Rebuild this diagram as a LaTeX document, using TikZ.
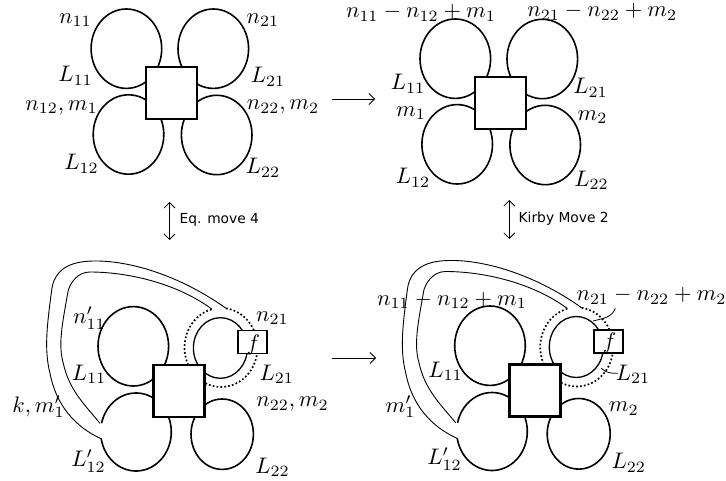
\documentclass[tikz,border=0pt]{standalone}
\usepackage{fontspec}
\newfontfamily\dejasans{DejaVu Sans}
\usetikzlibrary{arrows.meta}
\tikzset{
  x=1pt,y=-1pt,
  lp/.style={line width=1.6pt},
  thinlp/.style={line width=1.3pt},
  band/.style={line width=0.9pt},
  dotline/.style={line width=1.7pt,dash pattern=on 1.7pt off 2.2pt},
  bigbox/.style={draw,fill=white,line width=2.4pt,minimum width=51pt,minimum height=52pt,inner sep=0pt},
  fbox/.style={draw,fill=white,line width=1.9pt,minimum width=29pt,minimum height=23pt,inner sep=0pt},
  lbl/.style={scale=2.25,inner sep=0pt},
  movelbl/.style={font=\dejasans\fontsize{13.8}{16}\selectfont,inner sep=0pt},
  harrow/.style={line width=0.8pt,-{Straight Barb[length=5.5pt,width=11pt]}},
  varrow/.style={line width=0.8pt,{Straight Barb[length=5.5pt,width=11pt]}-{Straight Barb[length=5.5pt,width=11pt]}},
  leader/.style={line width=0.8pt}
}
\newcommand{\ringarc}[4]{% cx, cy, from, to
  \draw[dotline] plot[domain=#3:#4,samples=40,smooth] ({#1+36.5*cos(\x)},{#2-39.5*sin(\x)});}
\newcommand{\outerband}{(226,308.3) .. controls (175,272) and (120,258) .. (85,261.5) .. controls (60,264) and (53,278) .. (51.7,290) .. controls (47,325) and (44,350) .. (50,373.3) .. controls (56,405) and (75,427) .. (101.7,439)}
\newcommand{\innerband}{(211.7,309) .. controls (175,282) and (125,272) .. (90,272) .. controls (78,272) and (71,282) .. (68.3,290) .. controls (62,325) and (58,345) .. (63.3,363.3) .. controls (69,390) and (85,405) .. (100,423.3)}
\begin{document}
\begin{tikzpicture}
\useasboundingbox (0,0) rectangle (726,481);
% --- top left
\draw[lp] (126.4,48.7) ellipse [x radius=35.3pt,y radius=39.7pt];
\draw[lp] (213.3,48.7) ellipse [x radius=35.3pt,y radius=39.7pt];
\draw[lp] (128.5,134.5) ellipse [x radius=35.3pt,y radius=39.7pt];
\draw[lp] (216.7,135) ellipse [x radius=35.3pt,y radius=39.7pt];
\node[bigbox] (sqA) at (171.7,93) {};
% --- top right
\draw[lp] (455.3,58.7) ellipse [x radius=35.3pt,y radius=39.7pt];
\draw[lp] (542.3,59) ellipse [x radius=35.3pt,y radius=39.7pt];
\draw[lp] (457.2,144.3) ellipse [x radius=35.3pt,y radius=39.7pt];
\draw[lp] (545.2,145) ellipse [x radius=35.3pt,y radius=39.7pt];
\node[bigbox] (sqB) at (500.2,103) {};
% --- bottom left
\draw[band] \outerband;
\draw[band] \innerband;
\draw[lp] (133.3,346.3) ellipse [x radius=35.3pt,y radius=39.7pt];
\draw[thinlp] (220.4,348) ellipse [x radius=27pt,y radius=30.3pt];
\draw[lp] plot[domain=190:527,samples=70,smooth] ({136+35.3*cos(\x)},{432-39*sin(\x)});
\draw[lp] (222.2,434.2) ellipse [x radius=31.2pt,y radius=35.2pt];
\ringarc{221}{347.5}{105}{350}
\ringarc{221}{347.5}{82}{15}
\node[bigbox] (sqC) at (179,391) {};
\node[fbox] (fA) at (252.3,342) {};
% --- bottom right
\draw[band,shift={(355.7,-0.5)}] \outerband;
\draw[band,shift={(355.7,-0.5)}] \innerband;
\draw[lp] (490,345.7) ellipse [x radius=35.3pt,y radius=39.7pt];
\draw[thinlp] (576.3,347) ellipse [x radius=27pt,y radius=30.5pt];
\draw[lp] plot[domain=190:527,samples=70,smooth] ({492+35.3*cos(\x)},{431.5-39*sin(\x)});
\draw[lp] (578.7,433.8) ellipse [x radius=31.5pt,y radius=35.3pt];
\ringarc{576.7}{347}{105}{350}
\ringarc{576.7}{347}{82}{15}
\node[bigbox] (sqD) at (535,390.3) {};
\node[fbox] (fB) at (608.3,341.3) {};
% --- connectors
\coordinate (hA1) at (332,99); \coordinate (hA2) at (375,99);
\coordinate (hB1) at (332,358); \coordinate (hB2) at (376,358);
\coordinate (vA1) at (169.5,202); \coordinate (vA2) at (169.5,240);
\coordinate (vB1) at (509.3,200); \coordinate (vB2) at (509.3,239);
\draw[harrow] (hA1) -- (hA2);
\draw[harrow] (hB1) -- (hB2);
\draw[varrow] (vA1) -- (vA2);
\draw[varrow] (vB1) -- (vB2);
\coordinate (leadA1) at (615.3,308.3); \coordinate (leadA2) at (593,321);
\coordinate (leadB1) at (601.3,368.3); \coordinate (leadB2) at (618,373.3);
\draw[leader] (leadA1) to[out=250,in=15] (leadA2);
\draw[leader] (leadB1) to[out=-45,in=180] (leadB2);
% --- labels top left
\node[lbl] (a1) at (75.5,20) {$n_{11}$};
\node[lbl] (a2) at (263,20) {$n_{21}$};
\node[lbl] (a3) at (75.5,76) {$L_{11}$};
\node[lbl] (a4) at (268,76.8) {$L_{21}$};
\node[lbl] (a5) at (61.5,107.5) {$n_{12},m_1$};
\node[lbl] (a6) at (283,107) {$n_{22},m_2$};
\node[lbl] (a7) at (81.5,164) {$L_{12}$};
\node[lbl] (a8) at (263,168) {$L_{22}$};
\node[movelbl] (m1) at (219.3,220) {Eq. move 4};
% --- labels top right
\node[lbl] (b1) at (421,13) {$n_{11}-n_{12}+m_1$};
\node[lbl] (b2) at (602.3,12) {$n_{21}-n_{22}+m_2$};
\node[lbl] (b3) at (408,83.7) {$L_{11}$};
\node[lbl] (b4) at (590.5,87.7) {$L_{21}$};
\node[lbl] (b5) at (411,113.3) {$m_1$};
\node[lbl] (b6) at (592.5,117) {$m_2$};
\node[lbl] (b7) at (413,177.7) {$L_{12}$};
\node[lbl] (b8) at (591.5,180.3) {$L_{22}$};
\node[movelbl] (m2) at (563.7,219) {Kirby Move 2};
% --- labels bottom left
\node[lbl] (c1) at (89.5,318.3) {$n'_{11}$};
\node[lbl] (c2) at (272.5,318.3) {$n_{21}$};
\node[lbl] (c3) at (253.3,345) {$f$};
\node[lbl] (c4) at (89,374.3) {$L_{11}$};
\node[lbl] (c5) at (276.8,374.3) {$L_{21}$};
\node[lbl] (c6) at (38.5,406.7) {$k,m'_1$};
\node[lbl] (c7) at (292.5,404.3) {$n_{22},m_2$};
\node[lbl] (c8) at (88.5,461) {$L'_{12}$};
\node[lbl] (c9) at (272.5,467) {$L_{22}$};
% --- labels bottom right
\node[lbl] (d1) at (452,300.3) {$n_{11}-n_{12}+m_1$};
\node[lbl] (d2) at (651.5,296) {$n_{21}-n_{22}+m_2$};
\node[lbl] (d3) at (609.7,343.3) {$f$};
\node[lbl] (d4) at (445.5,371) {$L_{11}$};
\node[lbl] (d5) at (633,374.3) {$L_{21}$};
\node[lbl] (d6) at (400.5,406.7) {$m'_1$};
\node[lbl] (d7) at (623.8,408.7) {$m_2$};
\node[lbl] (d8) at (444.5,459.3) {$L'_{12}$};
\node[lbl] (d9) at (628.8,462.7) {$L_{22}$};
\end{tikzpicture}
\end{document}
